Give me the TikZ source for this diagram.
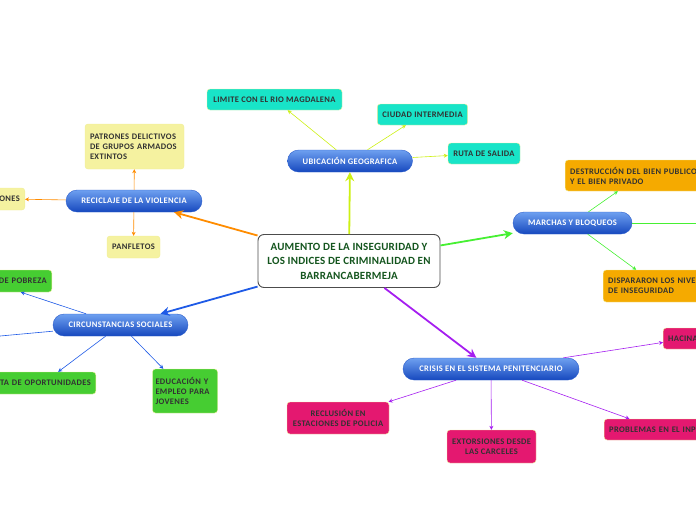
\documentclass[tikz,border=0pt]{standalone}
\usepackage{fontspec}
\setmainfont{Carlito}
\usetikzlibrary{arrows.meta,positioning}
\definecolor{pilltop}{RGB}{110,160,240}\definecolor{pillbot}{RGB}{22,72,190}\definecolor{pillline}{RGB}{45,95,205}
\definecolor{leafline}{RGB}{238,238,150}\definecolor{leaftext}{RGB}{50,50,50}\definecolor{titlegreen}{RGB}{20,85,30}
\definecolor{cyanleaf}{RGB}{24,228,200}\definecolor{yellowleaf}{RGB}{245,242,160}\definecolor{orangeleaf}{RGB}{245,170,0}
\definecolor{greenleaf}{RGB}{70,205,50}\definecolor{pinkleaf}{RGB}{228,24,112}
\definecolor{limebr}{RGB}{205,240,20}\definecolor{orangebr}{RGB}{255,140,0}\definecolor{greenbr}{RGB}{70,240,50}
\definecolor{bluebr}{RGB}{30,90,230}\definecolor{purplebr}{RGB}{165,30,240}

\begin{document}
\begin{tikzpicture}[x=1pt,y=-1pt,every node/.style={font=\bfseries\fontsize{8.5}{10}\selectfont\addfontfeatures{LetterSpace=4},align=center,inner sep=0pt},
  topic/.style={draw=pillline,top color=pilltop,bottom color=pillbot,text=white,rounded corners=11pt,minimum height=22pt},
  leaf/.style={draw=leafline,rounded corners=3pt,text=leaftext,inner xsep=5pt,minimum height=21pt},
  branch/.style={-{Stealth[length=9pt,width=9pt]},line width=1.8pt},
  twig/.style={-{Stealth[length=4pt,width=4pt]},line width=0.6pt}]
  \useasboundingbox (0,0) rectangle (696,520);
  \node[draw=black!70,line width=0.9pt,fill=white,rounded corners=6pt,minimum width=182pt,minimum height=53pt,text=titlegreen,font=\bfseries\fontsize{11}{14.5}\selectfont\addfontfeatures{LetterSpace=2}] (main) at (349,261) {AUMENTO DE LA INSEGURIDAD Y\\LOS INDICES DE CRIMINALIDAD EN\\BARRANCABERMEJA};
  \node[topic,minimum width=125pt] (ubic) at (350,161) {UBICACIÓN GEOGRAFICA};
  \node[leaf,fill=cyanleaf,minimum width=135pt] (limite) at (274.5,99.5) {LIMITE CON EL RIO MAGDALENA};
  \node[leaf,fill=cyanleaf,minimum width=89pt] (ciudad) at (422.5,114.5) {CIUDAD INTERMEDIA};
  \node[leaf,fill=cyanleaf,minimum width=72pt] (ruta) at (484,153.5) {RUTA DE SALIDA};
  \node[topic,minimum width=136pt] (recic) at (134,201) {RECICLAJE DE LA VIOLENCIA};
  \node[leaf,fill=yellowleaf,text width=89pt,align=left,minimum height=45pt] (patron) at (134.5,146.5) {PATRONES DELICTIVOS\\DE GRUPOS ARMADOS\\EXTINTOS};
  \node[leaf,fill=yellowleaf,anchor=east,text width=25pt,align=right,minimum height=22pt] (ones) at (25,199) {ONES};
  \node[leaf,fill=yellowleaf,minimum width=53pt,minimum height=22pt] (panflet) at (133.5,247) {PANFLETOS};
  \node[topic,minimum width=119pt] (marchas) at (572.5,223) {MARCHAS Y BLOQUEOS};
  \node[leaf,fill=orangeleaf,anchor=west,text width=140pt,align=left,minimum height=31pt] (destruc) at (565,175.5) {DESTRUCCIÓN DEL BIEN PUBLICO\\Y EL BIEN PRIVADO};
  \node[leaf,fill=orangeleaf,anchor=west,text width=100pt,align=left,minimum height=32pt] (dispar) at (603,286) {DISPARARON LOS NIVE\\DE INSEGURIDAD};
  \coordinate (offr) at (730,223);
  \node[topic,minimum width=135pt] (circ) at (120.5,325) {CIRCUNSTANCIAS SOCIALES};
  \node[leaf,fill=greenleaf,anchor=east,text width=52pt,align=right,minimum height=22pt] (pobreza) at (52,281) {DE POBREZA};
  \coordinate (offl) at (-60,341.5);
  \node[leaf,fill=greenleaf,anchor=east,text width=95pt,align=right,minimum height=22pt] (oport) at (96,383) {TA DE OPORTUNIDADES};
  \node[leaf,fill=greenleaf,text width=59pt,inner xsep=3pt,align=left,minimum height=44pt] (educa) at (185,391) {EDUCACIÓN Y\\EMPLEO PARA\\JOVENES};
  \node[topic,minimum width=176pt] (crisis) at (491,369) {CRISIS EN EL SISTEMA PENITENCIARIO};
  \node[leaf,fill=pinkleaf,anchor=west,text width=40pt,align=left] (hacina) at (663,338.5) {HACINA};
  \node[leaf,fill=pinkleaf,minimum width=102pt,minimum height=32pt] (reclus) at (338,418) {RECLUSIÓN EN\\ESTACIONES DE POLICIA};
  \node[leaf,fill=pinkleaf,minimum width=89pt,minimum height=33pt] (extors) at (491.5,446.5) {EXTORSIONES DESDE\\LAS CARCELES};
  \node[leaf,fill=pinkleaf,anchor=west,text width=100pt,align=left] (problem) at (604,429.5) {PROBLEMAS EN EL INP};
  \draw[branch,limebr] (main)--(ubic); \draw[branch,orangebr] (main)--(recic); \draw[branch,greenbr] (main)--(marchas);
  \draw[branch,bluebr] (main)--(circ); \draw[branch,purplebr] (main)--(crisis);
  \draw[twig,limebr] (ubic)--(limite); \draw[twig,limebr] (ubic)--(ciudad); \draw[twig,limebr] (ubic)--(ruta);
  \draw[twig,orangebr] (recic)--(patron); \draw[twig,orangebr] (recic)--(ones); \draw[twig,orangebr] (recic)--(panflet);
  \draw[twig,greenbr] (marchas)--(destruc); \draw[twig,greenbr] (marchas)--(dispar); \draw[twig,greenbr] (marchas)--(offr);
  \draw[twig,bluebr] (circ.162)--(pobreza.south); \draw[twig,bluebr] (circ)--(offl); \draw[twig,bluebr] (circ)--(oport); \draw[twig,bluebr] (circ)--(educa);
  \draw[twig,purplebr] (crisis)--(hacina); \draw[twig,purplebr] (crisis)--(reclus); \draw[twig,purplebr] (crisis)--(extors); \draw[twig,purplebr] (crisis)--(problem);
\end{tikzpicture}
\end{document}
